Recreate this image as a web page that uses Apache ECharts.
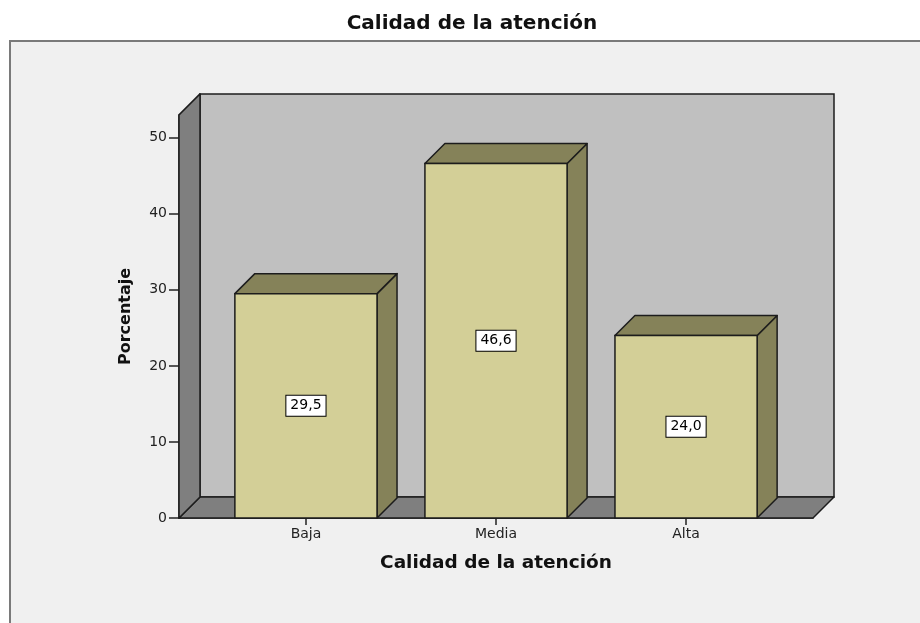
<!DOCTYPE html>
<html>
<head>
<meta charset="utf-8">
<script src="https://cdn.jsdelivr.net/npm/echarts@6/dist/echarts.min.js"></script>
<style>
html,body{margin:0;padding:0;background:#ffffff;}
#chart{width:920px;height:623px;}
</style>
</head>
<body>
<div id="chart"></div>
<script>
// ---- data ----
const categories = ['Baja', 'Media', 'Alta'];
const percentages = [29.5, 46.6, 24.0];
const yTicks = [0, 10, 20, 30, 40, 50];
const chartTitle = 'Calidad de la atención';
const xAxisTitle = 'Calidad de la atención';
const yAxisTitle = 'Porcentaje';

// ---- layout / style constants ----
const X_MIN = -0.668, X_MAX = 2.668;
const Y_MAX = 53;
const BAR_HALF = 0.374;
const WALL_DEPTH = 21;
const BAR_DEPTH = 20;
const EDGE = '#1c1c1c';
const FONT = '"DejaVu Sans", sans-serif';

function fmt(v) { return v.toFixed(1).replace('.', ','); }

const chart = echarts.init(document.getElementById('chart'), null, {renderer: 'canvas'});

function renderWalls(params, api) {
  const p00 = api.coord([X_MIN, 0]);
  const p11 = api.coord([X_MAX, Y_MAX]);
  const d = WALL_DEPTH;
  const left = p00[0], bottom = p00[1], right = p11[0], top = p11[1];
  const lw = 1.5;
  return {
    type: 'group',
    children: [
      { // back wall
        type: 'rect',
        shape: {x: left + d, y: top - d, width: right - left, height: bottom - top},
        style: {fill: '#c0c0c0', stroke: EDGE, lineWidth: lw}
      },
      { // floor
        type: 'polygon',
        shape: {points: [[left, bottom], [right, bottom], [right + d, bottom - d], [left + d, bottom - d]]},
        style: {fill: '#7f7f7f', stroke: EDGE, lineWidth: lw, lineJoin: 'round'}
      },
      { // side wall
        type: 'polygon',
        shape: {points: [[left, bottom], [left, top], [left + d, top - d], [left + d, bottom - d]]},
        style: {fill: '#7f7f7f', stroke: EDGE, lineWidth: lw, lineJoin: 'round'}
      }
    ]
  };
}

function renderBar(params, api) {
  const i = api.value(0);
  const v = api.value(1);
  const bl = api.coord([i - BAR_HALF, 0]);
  const tr = api.coord([i + BAR_HALF, v]);
  const mid = api.coord([i, v / 2]);
  const d = BAR_DEPTH;
  const x0 = bl[0], y0 = bl[1], x1 = tr[0], y1 = tr[1];
  const lw = 1.5;
  return {
    type: 'group',
    children: [
      { // right side
        type: 'polygon',
        shape: {points: [[x1, y0], [x1, y1], [x1 + d, y1 - d], [x1 + d, y0 - d]]},
        style: {fill: '#858259', stroke: EDGE, lineWidth: lw, lineJoin: 'round'}
      },
      { // top
        type: 'polygon',
        shape: {points: [[x0, y1], [x1, y1], [x1 + d, y1 - d], [x0 + d, y1 - d]]},
        style: {fill: '#858259', stroke: EDGE, lineWidth: lw, lineJoin: 'round'}
      },
      { // front
        type: 'rect',
        shape: {x: x0, y: y1, width: x1 - x0, height: y0 - y1},
        style: {fill: '#d3cf97', stroke: EDGE, lineWidth: lw}
      },
      { // value label
        type: 'text',
        x: mid[0],
        y: mid[1],
        z2: 10,
        style: {
          text: fmt(v),
          fill: '#000',
          font: '14px ' + FONT,
          align: 'center',
          verticalAlign: 'middle',
          backgroundColor: '#ffffff',
          borderColor: '#000000',
          borderWidth: 1,
          padding: [3, 4, 3, 4]
        }
      }
    ]
  };
}

const option = {
  backgroundColor: '#ffffff',
  animation: false,
  graphic: [
    {
      type: 'rect',
      z: -10,
      shape: {x: 10, y: 41, width: 940, height: 620},
      style: {fill: '#f0f0f0', stroke: '#7a7a7a', lineWidth: 2}
    },
    {
      type: 'text',
      x: 472,
      y: 24,
      style: {
        text: chartTitle,
        font: 'bold 20px ' + FONT,
        fill: '#111',
        align: 'center',
        verticalAlign: 'middle'
      }
    }
  ],
  grid: {left: 179, right: 107, top: 114.9, bottom: 105},
  xAxis: {
    type: 'value',
    min: X_MIN,
    max: X_MAX,
    name: xAxisTitle,
    nameLocation: 'middle',
    nameGap: 36,
    nameTextStyle: {fontFamily: FONT, fontWeight: 'bold', fontSize: 18.5, color: '#111'},
    splitLine: {show: false},
    axisLine: {show: true, onZero: false, lineStyle: {color: EDGE, width: 1.5}},
    axisTick: {show: true, length: 7, customValues: [0, 1, 2], lineStyle: {color: '#222', width: 1.5}},
    axisLabel: {
      customValues: [0, 1, 2],
      formatter: function (v) { return categories[Math.round(v)]; },
      margin: 9,
      fontFamily: FONT,
      fontSize: 14,
      color: '#222'
    }
  },
  yAxis: {
    type: 'value',
    min: 0,
    max: Y_MAX,
    name: yAxisTitle,
    nameLocation: 'middle',
    nameRotate: 90,
    nameGap: 45,
    nameTextStyle: {fontFamily: FONT, fontWeight: 'bold', fontSize: 16, color: '#111'},
    splitLine: {show: false},
    axisLine: {show: true, onZero: false, lineStyle: {color: EDGE, width: 1.5}},
    axisTick: {show: true, length: 10, customValues: yTicks, lineStyle: {color: '#222', width: 1.5}},
    axisLabel: {
      customValues: yTicks,
      margin: 12,
      fontFamily: FONT,
      fontSize: 14,
      color: '#222'
    }
  },
  series: [
    {
      type: 'custom',
      name: 'walls',
      clip: false,
      silent: true,
      z: 1,
      renderItem: renderWalls,
      data: [[0, 0]]
    },
    {
      type: 'custom',
      name: 'Porcentaje',
      clip: false,
      z: 3,
      renderItem: renderBar,
      encode: {x: 0, y: 1},
      data: percentages.map(function (v, i) { return [i, v]; })
    }
  ]
};

chart.setOption(option);
</script>
</body>
</html>
